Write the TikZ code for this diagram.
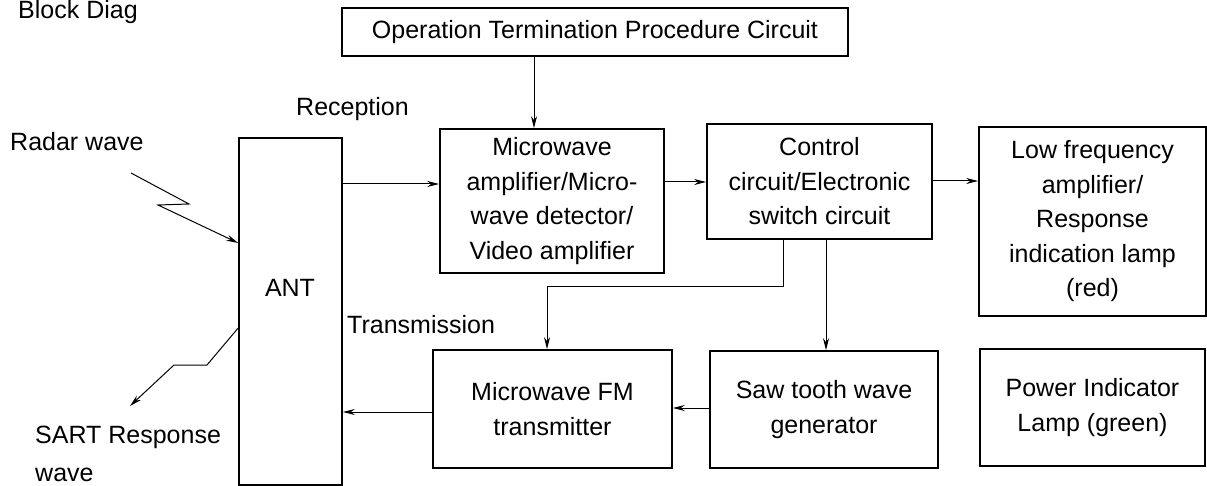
\documentclass[tikz,border=0pt]{standalone}
\usepackage{fontspec}
\setmainfont{Liberation Sans}
\usetikzlibrary{arrows.meta}
\begin{document}
\begin{tikzpicture}[x=1pt,y=-1pt,
  box/.style={draw,line width=1.6pt,inner sep=0pt,align=center,font=\fontsize{25}{34.5}\selectfont},
  lbl/.style={inner sep=0pt,font=\fontsize{25}{30}\selectfont},
  conn/.style={line width=1pt,-{Stealth[length=12pt,width=6pt]}},
]
\useasboundingbox (0,0) rectangle (1207,486);
% boxes
\node[box,minimum width=506pt,minimum height=48pt] (op) at (595,32) {Operation Termination Procedure Circuit};
\node[box,minimum width=103pt,minimum height=347pt] (ant) at (290.5,311.5) {};
\node[lbl] (antlbl) at (290,288) {ANT};
\node[box,minimum width=224pt,minimum height=144pt] (micro) at (552,201) {Microwave\\amplifier/Micro-\\wave detector/\\Video amplifier};
\node[box,minimum width=225pt,minimum height=115pt] (ctrl) at (819.5,181.5) {Control\\circuit/Electronic\\switch circuit};
\node[box,minimum width=227pt,minimum height=189pt] (low) at (1092.5,221.5) {Low frequency\\amplifier/\\Response\\indication lamp\\(red)};
\node[box,minimum width=239pt,minimum height=118pt] (fm) at (552.5,409) {Microwave FM\\transmitter};
\node[box,minimum width=228pt,minimum height=117pt] (saw) at (824,409.5) {Saw tooth wave\\generator};
\node[box,minimum width=225pt,minimum height=117pt] (pwr) at (1092.5,407.5) {Power Indicator\\Lamp (green)};
% labels
\node[lbl,anchor=base west] (title) at (18,19) {Block Diag};
\node[lbl,anchor=west] (rec) at (296,109) {Reception};
\node[lbl,anchor=west] (radar) at (10,142) {Radar wave};
\node[lbl,anchor=west] (trans) at (347,325) {Transmission};
\node[lbl,anchor=west] (sart) at (35,437) {SART Response};
\node[lbl,anchor=west] (sartw) at (35,475) {wave};
% connectors
\coordinate (xa) at (534,0);
\draw[conn] (op.south -| xa) -- (micro.north -| xa);
\draw[conn] (ant.east |- 0,184) -- (micro.west |- 0,184);
\draw[conn] (micro.east |- 0,182) -- (ctrl.west |- 0,182);
\draw[conn] (ctrl.east |- 0,181) -- (low.west |- 0,181);
\coordinate (xb) at (783,287);
\coordinate (xc) at (547,287);
\coordinate (xd) at (826,0);
\draw[conn] (ctrl.south -| xb) -- (xb) -- (xc) -- (fm.north -| xc);
\draw[conn] (ctrl.south -| xd) -- (saw.north -| xd);
\draw[conn] (saw.west |- 0,408) -- (fm.east |- 0,408);
\draw[conn] (fm.west |- 0,412) -- (ant.east |- 0,412);
% radar wave in
\coordinate (r0) at (131,173);
\draw[conn] (r0) -- (189,204) -- (158,205) -- (ant.west |- 0,243);
% response wave out
\coordinate (s1) at (130,406);
\draw[conn] (ant.west |- 0,328) -- (207,365) -- (174,365) -- (s1);
\end{tikzpicture}
\end{document}
